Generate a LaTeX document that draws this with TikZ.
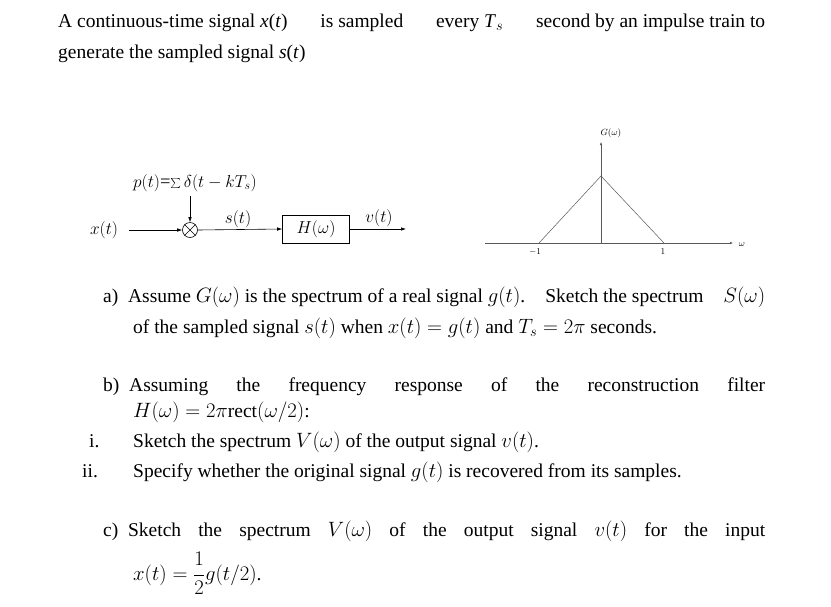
\documentclass[tikz,border=0pt]{standalone}
\usepackage{fontspec}
\setmainfont{Liberation Serif}
\usetikzlibrary{arrows.meta}
\begin{document}
\begin{tikzpicture}[x=1pt,y=-1pt,
  txt/.style={anchor=base west,inner sep=0pt,font=\fontsize{19.5}{22}\selectfont},
  dg/.style={font=\fontsize{18.5}{20}\selectfont,inner sep=1pt},
  sm/.style={font=\fontsize{9}{10}\selectfont,inner sep=0pt},
  ar/.style={-{Latex[length=5pt,width=3.5pt]},line width=0.6pt},
  ln/.style={line width=0.6pt}]
\useasboundingbox (0,0) rectangle (831,606);
% text
\node[txt] (l1) at (58,27) {\hbox to 707pt{A continuous-time signal \textit{x}(\textit{t})\hfill is sampled\hfill every \textit{T}$_s$\hfill second by an impulse train to}};
\node[txt] (l2) at (58,58) {generate the sampled signal \textit{s}(\textit{t})};
\node[txt] (a1) at (103,302) {\hbox to 662pt{a)\ \ Assume $G(\omega)$ is the spectrum of a real signal $g(t)$.\hfill Sketch the spectrum\hfill $S(\omega)$}};
\node[txt] (a2) at (133,333) {of the sampled signal $s(t)$ when $x(t)=g(t)$ and $T_s=2\pi$ seconds.};
\node[txt] (b1) at (103,391) {\hbox to 662pt{b)\ \ Assuming\hfill the\hfill frequency\hfill response\hfill of\hfill the\hfill reconstruction\hfill filter}};
\node[txt] (b2) at (133,417) {$H(\omega)=2\pi\mathrm{rect}(\omega/2)$:};
\node[txt] (i0) at (89,447) {i.};
\node[txt] (i1) at (133,447) {Sketch the spectrum $V(\omega)$ of the output signal $v(t)$.};
\node[txt] (ii0) at (82,477) {ii.};
\node[txt] (ii1) at (133,477) {Specify whether the original signal $g(t)$ is recovered from its samples.};
\node[txt] (c1) at (103,536) {\hbox to 662pt{c)\ \ Sketch\hfill the\hfill spectrum\hfill $V(\omega)$\hfill of\hfill the\hfill output\hfill signal\hfill $v(t)$\hfill for\hfill the\hfill input}};
\node[txt] (c2) at (133,580) {$x(t)=\displaystyle\frac{1}{2}g(t/2)$.};
% block diagram
\node[dg] (x) at (104,230) {$x(t)$};
\node[draw,circle,inner sep=0pt,minimum size=15pt,line width=0.6pt] (m) at (190,230) {};
\draw[ln] (m.north west)--(m.south east) (m.north east)--(m.south west);
\node[dg] (p) at (195,183) {$p(t)$=$\sum\delta(t-kT_s)$};
\node[draw,line width=0.6pt,minimum width=67pt,minimum height=28pt,inner sep=0pt,dg] (h) at (316,229) {$H(\omega)$};
\coordinate (pt) at (190,196);
\coordinate (vo) at (406,229);
\node[dg] at (238,219) {$s(t)$};
\node[dg] at (379,218) {$v(t)$};
\draw[ar] (x.east)++(10,0) -- (m.west);
\draw[ar] (pt) -- (m.north);
\draw[ar] (m.east) -- (h.west);
\draw[ar] (h.east) -- (vo);
% G plot
\coordinate (o) at (601,243);
\coordinate (xe) at (733,243);
\coordinate (xs) at (485,243);
\coordinate (ye) at (601,142);
\coordinate (pk) at (601,176);
\coordinate (lm) at (539,243);
\coordinate (rm) at (664,243);
\draw[-{Latex[length=3pt,width=2.5pt]},line width=0.5pt,gray!70!black] (xs) -- (xe);
\draw[-{Latex[length=3pt,width=2.5pt]},line width=0.5pt,gray!70!black] (o) -- (ye);
\draw[line width=0.5pt,gray!70!black] (lm) -- (pk) -- (rm);
\node[sm] at (611,133) {$G(\omega)$};
\node[sm] at (742,245) {$\omega$};
\node[sm] at (535,252) {$-1$};
\node[sm] at (663,252) {$1$};
\end{tikzpicture}
\end{document}
